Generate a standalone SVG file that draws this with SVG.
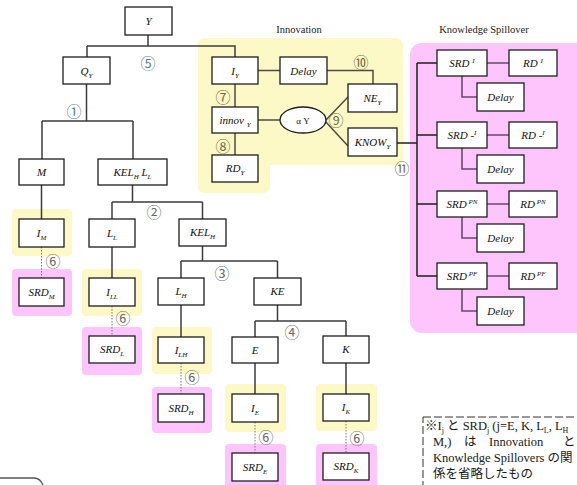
<svg xmlns="http://www.w3.org/2000/svg" width="577" height="485" viewBox="0 0 577 485">
  <defs>
    <style>
      .b { fill: #ffffff; stroke: #1e1e1e; stroke-width: 1.3; }
      .ln { fill: none; stroke: #3c3c3c; stroke-width: 1.5; }
      .il { fill: none; stroke: #4e4c40; stroke-width: 1.5; }
      .sl { fill: none; stroke: #6a4a68; stroke-width: 1.6; }
      .sp { fill: none; stroke: #1e1e1e; stroke-width: 1.5; }
      .dt { fill: none; stroke: #777777; stroke-width: 1; stroke-dasharray: 1.5 1.5; }
      .hy { fill: #fcf9c6; }
      .hp { fill: #fdc5fb; }
      .t { font-family: "Liberation Serif", "Times New Roman", serif; font-style: italic; font-size: 11px; text-anchor: middle; fill: #111111; }
      .s { font-size: 7px; }
      .ttl { font-family: "Liberation Serif", serif; font-size: 10.5px; text-anchor: middle; fill: #222222; }
      .c { font-family: "Noto Sans CJK JP", "DejaVu Sans", sans-serif; font-size: 15px; text-anchor: middle; dominant-baseline: central; fill: #6b6b6b; }
      .cb { fill: #5a7896; }
      .co { fill: #6e6a44; }
      .nt { font-family: "Liberation Serif", "Noto Sans CJK JP", serif; font-size: 12.5px; fill: #1a1a1a; }
    </style>
  </defs>

  <!-- shaded regions -->
  <path class="hy" d="M206,38 H395 Q403,38 403,46 V158 Q403,165 396,165 H270 V186 Q270,193 263,193 H205 Q198,193 198,186 V45 Q198,38 206,38 Z"/>
  <rect class="hp" x="410" y="43" width="180" height="290" rx="12"/>
  <text class="ttl" x="299" y="33">Innovation</text>
  <text class="ttl" x="484" y="33">Knowledge Spillover</text>

  <!-- highlight pads behind the leaf nodes -->
  <rect class="hy" x="12" y="209" width="60" height="47" rx="4"/>
  <rect class="hp" x="12" y="269" width="60" height="47" rx="4"/>
  <rect class="hy" x="82" y="269" width="60" height="47" rx="4"/>
  <rect class="hp" x="82" y="327" width="60" height="48" rx="4"/>
  <rect class="hy" x="152" y="327" width="60" height="47" rx="4"/>
  <rect class="hp" x="152" y="387" width="60" height="46" rx="4"/>
  <rect class="hy" x="225" y="384" width="61" height="48" rx="4"/>
  <rect class="hp" x="225" y="444" width="61" height="50" rx="4"/>
  <rect class="hy" x="316" y="384" width="61" height="47" rx="4"/>
  <rect class="hp" x="316" y="444" width="61" height="50" rx="4"/>

  <!-- connectors -->
  <g id="connectors">
    <path class="ln" d="M148,35 V46 M87,46 H235 V57 M87,46 V57"/>
    <path class="ln" d="M86.5,84 V121 M42,121 H133 M42,121 V159 M133,121 V159"/>
    <path class="ln" d="M41.5,185 V219"/>
    <path class="dt" d="M41.5,247 V278"/>
    <path class="ln" d="M132.5,185 V202 M112,202 H202.5 M112,202 V219 M202.5,202 V219"/>
    <path class="ln" d="M112,247 V278"/>
    <path class="dt" d="M112,306 V336"/>
    <path class="ln" d="M202.5,246 V261 M181,261 H277.5 M181,261 V278 M277.5,261 V278"/>
    <path class="ln" d="M181,305 V337"/>
    <path class="dt" d="M181,363 V394"/>
    <path class="ln" d="M277.5,305 V321 M255,321 H346 M255,321 V337 M346,321 V336"/>
    <path class="ln" d="M255,363 V394 M346,363 V394"/>
    <path class="dt" d="M255,422 V453 M346,421 V453"/>
    <!-- innovation block -->
    <path class="il" d="M258,70.5 H280 M327,70.5 H373 V84 M235,84 V107 M235,133 V155 M258,120 H280 M325,121 L348,97 M325,121 L348,146"/>
    <path class="sp" d="M397,143 H417"/>
    <!-- spillover block -->
    <path class="sp" d="M417,63 V276 M417,63 H437 M417,135 H437 M417,204 H437 M417,276 H437"/>
    <path class="sl" d="M487,63 H509 M487,135 H509 M487,204 H509 M487,276 H509"/>
    <path class="sl" d="M462,76 V97 H477 M462,148 V169 H477 M462,217 V238 H477 M462,289 V311 H477"/>
  </g>

  <!-- tree nodes -->
  <g id="n-y"><rect class="b" x="125" y="7" width="47" height="28"/><text class="t" x="148.5" y="25">Y</text></g>
  <g id="n-qy"><rect class="b" x="63" y="57" width="47" height="27"/><text class="t" x="86.5" y="75">Q<tspan class="s" dy="2.5">Y</tspan></text></g>
  <g id="n-m"><rect class="b" x="19" y="159" width="45" height="26"/><text class="t" x="41.5" y="176">M</text></g>
  <g id="n-kelhll"><rect class="b" x="98" y="159" width="69" height="26"/><text class="t" x="132.5" y="176">KEL<tspan class="s" dy="2.5">H</tspan><tspan dy="-2.5"> L</tspan><tspan class="s" dy="2.5">L</tspan></text></g>
  <g id="n-im"><rect class="b" x="19" y="219" width="45" height="28"/><text class="t" x="41.5" y="237">I<tspan class="s" dy="2.5">M</tspan></text></g>
  <g id="n-srdm"><rect class="b" x="19" y="278" width="45" height="28"/><text class="t" x="41.5" y="296">SRD<tspan class="s" dy="2.5">M</tspan></text></g>
  <g id="n-ll"><rect class="b" x="89" y="219" width="46" height="28"/><text class="t" x="112" y="237">L<tspan class="s" dy="2.5">L</tspan></text></g>
  <g id="n-kelh"><rect class="b" x="179" y="219" width="47" height="27"/><text class="t" x="202.5" y="236">KEL<tspan class="s" dy="2.5">H</tspan></text></g>
  <g id="n-ill"><rect class="b" x="89" y="278" width="46" height="28"/><text class="t" x="112" y="296">I<tspan class="s" dy="2.5">LL</tspan></text></g>
  <g id="n-srdl"><rect class="b" x="89" y="336" width="46" height="27"/><text class="t" x="112" y="353">SRD<tspan class="s" dy="2.5">L</tspan></text></g>
  <g id="n-lh"><rect class="b" x="158" y="278" width="46" height="27"/><text class="t" x="181" y="295">L<tspan class="s" dy="2.5">H</tspan></text></g>
  <g id="n-ke"><rect class="b" x="254" y="278" width="47" height="27"/><text class="t" x="277.5" y="295">KE</text></g>
  <g id="n-ilh"><rect class="b" x="158" y="337" width="46" height="26"/><text class="t" x="181" y="354">I<tspan class="s" dy="2.5">LH</tspan></text></g>
  <g id="n-srdh"><rect class="b" x="158" y="394" width="46" height="28"/><text class="t" x="181" y="412">SRD<tspan class="s" dy="2.5">H</tspan></text></g>
  <g id="n-e"><rect class="b" x="232" y="337" width="46" height="26"/><text class="t" x="255" y="354">E</text></g>
  <g id="n-k"><rect class="b" x="323" y="336" width="46" height="27"/><text class="t" x="346" y="353">K</text></g>
  <g id="n-ie"><rect class="b" x="232" y="394" width="46" height="28"/><text class="t" x="255" y="412">I<tspan class="s" dy="2.5">E</tspan></text></g>
  <g id="n-srde"><rect class="b" x="232" y="453" width="46" height="28"/><text class="t" x="255" y="471">SRD<tspan class="s" dy="2.5">E</tspan></text></g>
  <g id="n-ik"><rect class="b" x="323" y="394" width="46" height="27"/><text class="t" x="346" y="411">I<tspan class="s" dy="2.5">K</tspan></text></g>
  <g id="n-srdk"><rect class="b" x="323" y="453" width="46" height="27"/><text class="t" x="346" y="470">SRD<tspan class="s" dy="2.5">K</tspan></text></g>

  <!-- innovation nodes -->
  <g id="n-iy"><rect class="b" x="212" y="57" width="46" height="27"/><text class="t" x="235" y="75">I<tspan class="s" dy="2.5">Y</tspan></text></g>
  <g id="n-delay"><rect class="b" x="280" y="57" width="47" height="27"/><text class="t" x="303.5" y="75">Delay</text></g>
  <g id="n-ney"><rect class="b" x="348" y="84" width="49" height="28"/><text class="t" x="372.5" y="102">NE<tspan class="s" dy="2.5">Y</tspan></text></g>
  <g id="n-knowy"><rect class="b" x="348" y="128" width="49" height="28"/><text class="t" x="372.5" y="146">KNOW<tspan class="s" dy="2.5">Y</tspan></text></g>
  <g id="n-innovy"><rect class="b" x="212" y="107" width="46" height="26"/><text class="t" x="235" y="124">innov <tspan class="s" dy="2.5">Y</tspan></text></g>
  <g id="n-rdy"><rect class="b" x="212" y="155" width="46" height="27"/><text class="t" x="235" y="172">RD<tspan class="s" dy="2.5">Y</tspan></text></g>
  <g id="n-alpha"><ellipse class="b" cx="303" cy="120" rx="23" ry="13"/><text class="t" x="303" y="124" style="font-style:normal;font-size:9px">α Y</text></g>

  <!-- spillover nodes -->
  <g id="n-srdi"><rect class="b" x="437" y="50" width="50" height="26"/><text class="t" x="462" y="67">SRD <tspan class="s" dy="-4">I</tspan></text></g>
  <g id="n-rdi"><rect class="b" x="509" y="50" width="48" height="26"/><text class="t" x="533" y="67">RD <tspan class="s" dy="-4">I</tspan></text></g>
  <g id="n-delay1"><rect class="b" x="477" y="83" width="47" height="28"/><text class="t" x="500.5" y="101">Delay</text></g>
  <g id="n-srdmi"><rect class="b" x="437" y="122" width="50" height="26"/><text class="t" x="462" y="139">SRD -<tspan class="s" dy="-4">I</tspan></text></g>
  <g id="n-rdmi"><rect class="b" x="509" y="122" width="48" height="26"/><text class="t" x="533" y="139">RD -<tspan class="s" dy="-4">I</tspan></text></g>
  <g id="n-delay2"><rect class="b" x="477" y="155" width="47" height="28"/><text class="t" x="500.5" y="173">Delay</text></g>
  <g id="n-srdpn"><rect class="b" x="437" y="191" width="50" height="26"/><text class="t" x="462" y="208">SRD<tspan class="s" dy="-4"> PN</tspan></text></g>
  <g id="n-rdpn"><rect class="b" x="509" y="191" width="48" height="26"/><text class="t" x="533" y="208">RD<tspan class="s" dy="-4"> PN</tspan></text></g>
  <g id="n-delay3"><rect class="b" x="477" y="224" width="47" height="28"/><text class="t" x="500.5" y="242">Delay</text></g>
  <g id="n-srdpf"><rect class="b" x="437" y="263" width="50" height="26"/><text class="t" x="462" y="280">SRD<tspan class="s" dy="-4"> PF</tspan></text></g>
  <g id="n-rdpf"><rect class="b" x="509" y="263" width="48" height="26"/><text class="t" x="533" y="280">RD<tspan class="s" dy="-4"> PF</tspan></text></g>
  <g id="n-delay4"><rect class="b" x="477" y="297" width="47" height="28"/><text class="t" x="500.5" y="315">Delay</text></g>

  <!-- step numbers -->
  <text class="c cb" x="148" y="62">⑤</text>
  <text class="c cb" x="74" y="110">①</text>
  <text class="c" x="154" y="211">②</text>
  <text class="c" x="222" y="272">③</text>
  <text class="c" x="292" y="331">④</text>
  <text class="c" x="53" y="260">⑥</text>
  <text class="c" x="123" y="317">⑥</text>
  <text class="c" x="192" y="376">⑥</text>
  <text class="c" x="266" y="436">⑥</text>
  <text class="c" x="357" y="437">⑥</text>
  <text class="c co" x="223" y="96">⑦</text>
  <text class="c co" x="223" y="145">⑧</text>
  <text class="c co" x="336" y="119">⑨</text>
  <text class="c co" x="361" y="61">⑩</text>
  <text class="c co" x="402" y="167">⑪</text>

  <!-- footnote -->
  <rect x="423" y="417" width="200" height="100" fill="none" stroke="#333333" stroke-width="1" stroke-dasharray="8 3"/>
  <text class="nt" x="425" y="430">※I<tspan font-size="8" dy="3">j</tspan><tspan dy="-3"> と SRD</tspan><tspan font-size="8" dy="3">j</tspan><tspan dy="-3"> (j=E, K, L</tspan><tspan font-size="8" dy="3">L</tspan><tspan dy="-3">, L</tspan><tspan font-size="8" dy="3">H</tspan></text>
  <text class="nt" x="433" y="446">M,)</text>
  <text class="nt" x="464" y="446">は</text>
  <text class="nt" x="489" y="446">Innovation</text>
  <text class="nt" x="563" y="446">と</text>
  <text class="nt" x="433" y="462">Knowledge Spillovers の関</text>
  <text class="nt" x="433" y="478">係を省略したもの</text>

  <!-- partial frame at lower left -->
  <path d="M0,478 H34 Q40,478 43,485" fill="none" stroke="#555555" stroke-width="1.3"/>
</svg>
